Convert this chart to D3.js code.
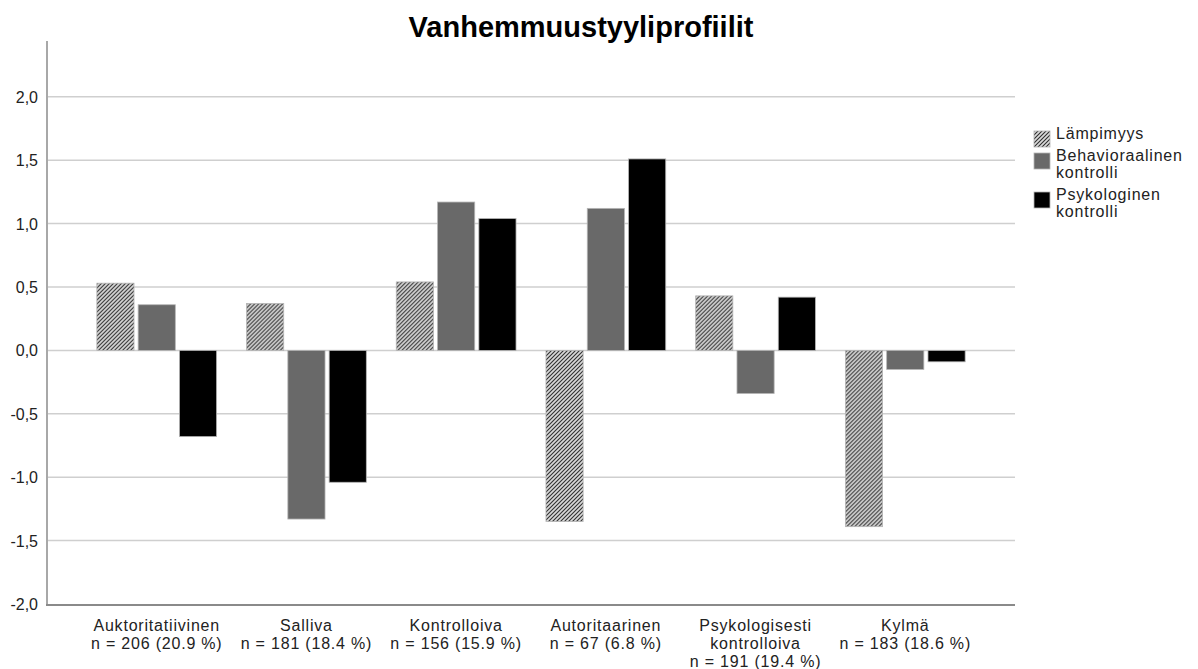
<!DOCTYPE html>
<html>
<head>
<meta charset="utf-8">
<script src="https://cdn.jsdelivr.net/npm/d3@7"></script>
<style>
  body { margin: 0; background: #fff; }
  text { font-family: "Liberation Sans", Arial, sans-serif; fill: #222; }
</style>
</head>
<body>
<div id="chart"></div>
<script>
const categories = ["Auktoritatiivinen", "Salliva", "Kontrolloiva", "Autoritaarinen", "Psykologisesti kontrolloiva", "Kylmä"];
const catLabels = [
  ["Auktoritatiivinen", "n = 206 (20.9 %)"],
  ["Salliva", "n = 181 (18.4 %)"],
  ["Kontrolloiva", "n = 156 (15.9 %)"],
  ["Autoritaarinen", "n = 67 (6.8 %)"],
  ["Psykologisesti", "kontrolloiva", "n = 191 (19.4 %)"],
  ["Kylmä", "n = 183 (18.6 %)"]
];
const seriesNames = ["Lämpimyys", "Behavioraalinen kontrolli", "Psykologinen kontrolli"];
const legendLines = [["Lämpimyys"], ["Behavioraalinen", "kontrolli"], ["Psykologinen", "kontrolli"]];
const lampimyys = [0.53, 0.37, 0.54, -1.35, 0.43, -1.39];
const behavioraalinen = [0.36, -1.33, 1.17, 1.12, -0.34, -0.15];
const psykologinen = [-0.68, -1.04, 1.04, 1.51, 0.42, -0.09];
const yTicks = [-2, -1.5, -1, -0.5, 0, 0.5, 1, 1.5, 2];

const W = 1198, H = 669;
const plot = { left: 47, right: 1015, top: 41, bottom: 604 };

const svg = d3.select("#chart").append("svg").attr("width", W).attr("height", H);

const defs = svg.append("defs");
const pat = defs.append("pattern")
  .attr("id", "hatch")
  .attr("patternUnits", "userSpaceOnUse")
  .attr("width", 4).attr("height", 4);
pat.append("rect").attr("width", 4).attr("height", 4).attr("fill", "#dadada");
pat.append("path")
  .attr("d", "M-1,1 l2,-2 M0,4 l4,-4 M3,5 l2,-2")
  .attr("stroke", "#2e2e2e").attr("stroke-width", 1.1);

const fills = ["url(#hatch)", "#696969", "#000000"];

const data = categories.map((c, i) => ({
  cat: c,
  values: [lampimyys[i], behavioraalinen[i], psykologinen[i]]
}));

const x0 = d3.scaleBand().domain(categories)
  .range([plot.left, plot.right])
  .paddingInner(0.2).paddingOuter(0.333);
const x1 = d3.scaleBand().domain(d3.range(3))
  .range([0, x0.bandwidth()])
  .paddingInner(0.1);
const y = d3.scaleLinear().domain([-2, 2.44]).range([plot.bottom, plot.top]);

// grid lines
svg.append("g").selectAll("line")
  .data(yTicks.filter(d => d !== -2))
  .join("line")
  .attr("x1", plot.left).attr("x2", plot.right)
  .attr("y1", d => y(d)).attr("y2", d => y(d))
  .attr("stroke", "#cfcfcf").attr("stroke-width", 1.5);

// y tick labels
svg.append("g").selectAll("text")
  .data(yTicks)
  .join("text")
  .attr("x", 38)
  .attr("y", d => y(d) + 6)
  .attr("text-anchor", "end")
  .style("font-size", "16px")
  .text(d => d3.format(".1f")(d).replace("−", "-").replace(".", ","));

// bars
const groups = svg.append("g").selectAll("g")
  .data(data)
  .join("g")
  .attr("transform", d => `translate(${x0(d.cat)},0)`);

groups.selectAll("rect")
  .data(d => d.values.map((v, k) => ({ v, k })))
  .join("rect")
  .attr("x", d => x1(d.k))
  .attr("width", x1.bandwidth())
  .attr("y", d => y(Math.max(0, d.v)))
  .attr("height", d => Math.abs(y(d.v) - y(0)))
  .attr("fill", d => fills[d.k])
  .attr("stroke", "#b5b5b5")
  .attr("stroke-width", 0.8);

// axes lines
svg.append("line")
  .attr("x1", plot.left).attr("x2", plot.left)
  .attr("y1", plot.top).attr("y2", plot.bottom + 1)
  .attr("stroke", "#a8a8a8").attr("stroke-width", 2);
svg.append("line")
  .attr("x1", plot.left - 1).attr("x2", plot.right)
  .attr("y1", plot.bottom + 1).attr("y2", plot.bottom + 1)
  .attr("stroke", "#8a8a8a").attr("stroke-width", 2);

// category labels
const xl = svg.append("g").selectAll("text")
  .data(categories)
  .join("text")
  .attr("text-anchor", "middle")
  .attr("x", d => x0(d) + x0.bandwidth() / 2)
  .attr("y", 631)
  .style("font-size", "16px")
  .style("letter-spacing", "0.8px");
xl.selectAll("tspan")
  .data((d, i) => catLabels[i])
  .join("tspan")
  .attr("x", function () { return this.parentNode.getAttribute("x"); })
  .attr("dy", (d, i) => i === 0 ? 0 : 18)
  .text(d => d);

// title
svg.append("text")
  .attr("x", 581).attr("y", 37)
  .attr("text-anchor", "middle")
  .style("font-size", "29px")
  .style("font-weight", "bold")
  .style("fill", "#000")
  .text("Vanhemmuustyyliprofiilit");

// legend
const legendTop = [139, 161, 200];
const leg = svg.append("g").selectAll("g")
  .data(seriesNames)
  .join("g")
  .attr("transform", (d, i) => `translate(1034,${legendTop[i]})`);
leg.append("rect")
  .attr("x", 0).attr("y", -8)
  .attr("width", 16).attr("height", 16)
  .attr("fill", (d, i) => fills[i])
  .attr("stroke", "#b5b5b5").attr("stroke-width", 0.8);
leg.append("text")
  .attr("x", 22).attr("y", 0)
  .style("font-size", "16px")
  .style("letter-spacing", "0.8px")
  .selectAll("tspan")
  .data((d, i) => legendLines[i])
  .join("tspan")
  .attr("x", 22)
  .attr("dy", (d, i) => i === 0 ? 0 : 17)
  .text(d => d);
</script>
</body>
</html>
